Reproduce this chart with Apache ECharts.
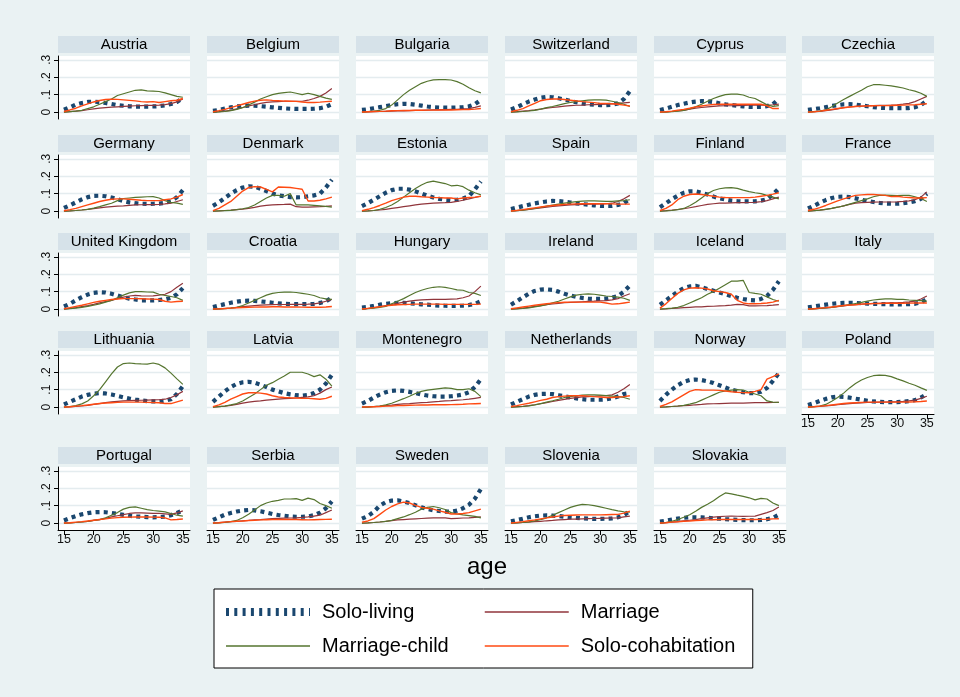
<!DOCTYPE html>
<html><head><meta charset="utf-8">
<script src="https://cdn.jsdelivr.net/npm/echarts@6/dist/echarts.min.js"></script>
<style>html,body{margin:0;padding:0;background:#EAF2F3}#c{width:960px;height:697px}</style>
</head><body><div id="c"></div>
<script>
const ages = [15,16,17,18,19,20,21,22,23,24,25,26,27,28,29,30,31,32,33,34,35];
const countries = ['Austria','Belgium','Bulgaria','Switzerland','Cyprus','Czechia',
  'Germany','Denmark','Estonia','Spain','Finland','France',
  'United Kingdom','Croatia','Hungary','Ireland','Iceland','Italy',
  'Lithuania','Latvia','Montenegro','Netherlands','Norway','Poland',
  'Portugal','Serbia','Sweden','Slovenia','Slovakia'];
const seriesNames = ['Solo-living','Marriage','Marriage-child','Solo-cohabitation'];
const xTicks = [15,20,25,30,35];
const yTicks = [0,0.1,0.2,0.3];

const soloLiving = {
  'Austria':[.013,.027,.043,.052,.058,.06,.057,.052,.046,.04,.036,.033,.031,.031,.031,.032,.034,.038,.046,.058,.08],
  'Belgium':[.007,.012,.02,.027,.032,.035,.037,.036,.034,.031,.027,.024,.021,.019,.018,.018,.018,.019,.022,.03,.045],
  'Bulgaria':[.012,.016,.022,.028,.034,.04,.045,.047,.046,.042,.037,.032,.028,.026,.025,.025,.026,.028,.033,.045,.07],
  'Switzerland':[.015,.028,.045,.06,.072,.082,.087,.085,.079,.072,.064,.056,.05,.045,.042,.04,.04,.042,.05,.075,.12],
  'Cyprus':[.012,.02,.03,.04,.048,.055,.06,.063,.062,.057,.05,.044,.04,.036,.033,.03,.029,.03,.034,.045,.075],
  'Czechia':[.012,.017,.022,.028,.035,.04,.044,.045,.043,.038,.033,.028,.025,.023,.022,.022,.022,.023,.028,.04,.065],
  'Germany':[.018,.033,.05,.067,.08,.087,.088,.085,.078,.068,.058,.05,.045,.042,.041,.042,.043,.047,.056,.08,.12],
  'Denmark':[.03,.05,.075,.1,.12,.135,.142,.14,.128,.115,.1,.09,.085,.08,.078,.08,.085,.09,.1,.135,.18],
  'Estonia':[.028,.045,.065,.085,.105,.12,.128,.128,.123,.113,.1,.088,.078,.07,.065,.063,.065,.072,.085,.125,.17],
  'Spain':[.012,.02,.028,.036,.044,.05,.055,.058,.057,.054,.049,.044,.04,.036,.033,.03,.03,.03,.035,.045,.07],
  'Finland':[.022,.045,.068,.088,.105,.113,.113,.105,.095,.083,.073,.066,.06,.057,.055,.055,.056,.06,.068,.095,.13],
  'France':[.015,.03,.048,.063,.075,.082,.083,.08,.073,.065,.058,.052,.047,.043,.042,.042,.045,.05,.057,.07,.1],
  'United Kingdom':[.015,.03,.05,.068,.083,.093,.097,.095,.088,.078,.068,.06,.055,.05,.05,.05,.052,.056,.065,.085,.12],
  'Croatia':[.012,.02,.028,.036,.042,.047,.048,.047,.044,.04,.036,.032,.03,.029,.028,.028,.028,.03,.035,.045,.065],
  'Hungary':[.008,.012,.018,.025,.03,.034,.035,.035,.033,.03,.027,.025,.022,.02,.019,.018,.018,.02,.023,.03,.045],
  'Ireland':[.025,.045,.067,.088,.104,.112,.113,.11,.1,.088,.078,.07,.064,.06,.058,.058,.06,.065,.075,.1,.135],
  'Iceland':[.025,.05,.075,.1,.12,.13,.133,.125,.115,.105,.095,.085,.075,.065,.058,.052,.05,.058,.075,.11,.16],
  'Italy':[.01,.015,.02,.025,.03,.033,.035,.036,.035,.033,.031,.03,.029,.028,.027,.027,.027,.028,.03,.038,.058],
  'Lithuania':[.015,.03,.045,.06,.07,.077,.08,.078,.072,.064,.056,.049,.043,.038,.034,.032,.032,.036,.045,.075,.12],
  'Latvia':[.03,.06,.09,.115,.133,.142,.145,.14,.128,.115,.1,.09,.08,.073,.068,.066,.07,.08,.1,.135,.185],
  'Montenegro':[.02,.035,.055,.072,.085,.093,.096,.093,.087,.08,.072,.066,.062,.06,.06,.062,.066,.072,.085,.115,.16],
  'Netherlands':[.015,.03,.045,.06,.07,.075,.076,.074,.068,.062,.055,.05,.045,.042,.042,.042,.044,.05,.06,.075,.08],
  'Norway':[.035,.07,.1,.125,.145,.155,.158,.155,.148,.138,.125,.112,.1,.092,.085,.08,.08,.088,.11,.15,.195],
  'Poland':[.012,.022,.035,.047,.056,.06,.058,.054,.048,.042,.036,.032,.03,.028,.028,.028,.03,.034,.04,.055,.075],
  'Portugal':[.015,.028,.04,.05,.057,.062,.063,.062,.058,.053,.047,.042,.038,.036,.034,.033,.034,.037,.045,.058,.072],
  'Serbia':[.018,.033,.048,.058,.066,.072,.075,.073,.068,.06,.052,.046,.042,.038,.036,.036,.038,.045,.06,.085,.125],
  'Sweden':[.025,.04,.065,.1,.12,.129,.13,.124,.115,.102,.09,.081,.073,.069,.066,.066,.071,.085,.105,.14,.195],
  'Slovenia':[.01,.017,.025,.033,.039,.043,.044,.043,.04,.036,.033,.03,.027,.025,.024,.024,.025,.027,.033,.045,.068],
  'Slovakia':[.008,.013,.02,.025,.03,.033,.033,.032,.03,.027,.025,.022,.02,.018,.017,.016,.016,.018,.022,.03,.048]
};

const marriage = {
  'Austria':[0,.002,.005,.008,.013,.018,.022,.025,.028,.03,.032,.034,.036,.037,.038,.038,.04,.043,.048,.058,.075],
  'Belgium':[0,.002,.005,.01,.018,.026,.035,.042,.05,.055,.058,.06,.062,.062,.062,.062,.068,.078,.09,.11,.135],
  'Bulgaria':[0,.001,.002,.003,.004,.005,.006,.007,.008,.009,.01,.011,.012,.013,.014,.015,.016,.018,.02,.027,.035],
  'Switzerland':[0,.002,.005,.008,.012,.017,.022,.026,.03,.034,.037,.039,.04,.042,.043,.044,.045,.047,.05,.053,.055],
  'Cyprus':[0,.001,.003,.006,.01,.016,.022,.026,.03,.033,.035,.036,.036,.037,.038,.039,.04,.04,.04,.042,.045],
  'Czechia':[0,.002,.004,.008,.012,.018,.025,.029,.032,.034,.036,.037,.038,.039,.04,.042,.045,.05,.06,.075,.09],
  'Germany':[0,.001,.003,.006,.01,.014,.018,.022,.025,.028,.03,.033,.035,.036,.037,.037,.038,.041,.045,.055,.065],
  'Denmark':[0,.001,.003,.005,.008,.011,.015,.021,.028,.032,.035,.037,.038,.04,.025,.023,.023,.024,.025,.027,.03],
  'Estonia':[0,.001,.003,.006,.01,.015,.02,.025,.03,.035,.04,.043,.045,.047,.048,.05,.055,.062,.07,.078,.085],
  'Spain':[0,.002,.005,.009,.013,.018,.022,.026,.03,.033,.035,.037,.038,.039,.04,.041,.042,.045,.055,.07,.09],
  'Finland':[0,.002,.005,.009,.013,.019,.025,.032,.038,.042,.045,.046,.047,.048,.048,.049,.05,.054,.06,.07,.08],
  'France':[0,.002,.005,.01,.015,.022,.03,.038,.045,.048,.05,.051,.052,.052,.052,.053,.055,.058,.065,.08,.11],
  'United Kingdom':[0,.004,.008,.014,.02,.027,.035,.043,.05,.06,.068,.075,.078,.076,.075,.076,.08,.085,.1,.125,.148],
  'Croatia':[0,.001,.003,.006,.01,.014,.017,.02,.022,.024,.025,.026,.026,.027,.027,.027,.028,.03,.035,.045,.055],
  'Hungary':[0,.003,.008,.013,.02,.027,.033,.04,.045,.05,.053,.054,.055,.055,.056,.057,.058,.065,.075,.1,.132],
  'Ireland':[0,.002,.005,.01,.015,.02,.025,.029,.033,.036,.038,.04,.042,.044,.045,.047,.048,.053,.06,.075,.088],
  'Iceland':[0,.001,.003,.005,.008,.01,.012,.013,.015,.016,.018,.02,.023,.027,.025,.018,.018,.019,.02,.022,.025],
  'Italy':[0,.002,.004,.007,.01,.014,.018,.022,.025,.028,.03,.032,.033,.034,.035,.036,.038,.041,.045,.058,.075],
  'Lithuania':[0,.001,.003,.006,.01,.015,.02,.025,.03,.033,.035,.037,.038,.039,.04,.041,.042,.045,.055,.07,.09],
  'Latvia':[0,.002,.005,.01,.015,.022,.028,.032,.035,.04,.043,.046,.048,.05,.052,.055,.058,.065,.08,.1,.115],
  'Montenegro':[0,.001,.003,.005,.008,.011,.015,.018,.02,.023,.025,.027,.03,.032,.035,.037,.04,.042,.045,.05,.055],
  'Netherlands':[0,.002,.004,.008,.013,.019,.025,.032,.038,.044,.05,.054,.058,.06,.062,.064,.066,.07,.085,.105,.13],
  'Norway':[0,.001,.003,.005,.008,.01,.013,.015,.018,.019,.02,.021,.022,.022,.023,.024,.025,.025,.025,.026,.027],
  'Poland':[0,.002,.004,.007,.01,.013,.017,.02,.022,.024,.026,.027,.028,.029,.03,.031,.033,.036,.04,.05,.062],
  'Portugal':[0,.001,.003,.006,.01,.015,.02,.027,.035,.042,.048,.055,.058,.058,.057,.056,.055,.053,.05,.058,.07],
  'Serbia':[0,.002,.005,.008,.01,.013,.015,.018,.02,.023,.025,.027,.028,.029,.03,.032,.035,.04,.045,.06,.075],
  'Sweden':[0,.001,.003,.006,.01,.014,.018,.02,.022,.024,.026,.028,.03,.03,.03,.025,.027,.029,.03,.033,.035],
  'Slovenia':[0,.001,.003,.005,.008,.01,.013,.015,.018,.02,.022,.023,.024,.025,.026,.027,.028,.029,.03,.035,.04],
  'Slovakia':[0,.002,.005,.008,.012,.016,.02,.025,.03,.034,.037,.039,.04,.039,.038,.039,.04,.05,.06,.072,.092]
};

const marriageChild = {
  'Austria':[0,.002,.005,.01,.02,.03,.045,.06,.075,.095,.105,.115,.125,.127,.122,.12,.118,.11,.1,.09,.085],
  'Belgium':[0,.001,.003,.008,.015,.025,.04,.057,.075,.088,.1,.107,.112,.115,.108,.1,.108,.1,.09,.08,.073],
  'Bulgaria':[0,.002,.005,.01,.02,.04,.07,.1,.125,.145,.165,.177,.185,.186,.186,.184,.175,.16,.14,.122,.11],
  'Switzerland':[0,.001,.003,.006,.01,.017,.025,.032,.04,.048,.055,.06,.065,.068,.07,.07,.068,.062,.055,.045,.032],
  'Cyprus':[0,0,.002,.005,.01,.018,.03,.045,.062,.078,.09,.1,.103,.103,.098,.085,.078,.06,.042,.033,.037],
  'Czechia':[0,.002,.005,.012,.03,.052,.072,.09,.108,.125,.145,.157,.157,.154,.15,.145,.138,.128,.12,.108,.09],
  'Germany':[0,.001,.003,.006,.01,.017,.025,.035,.045,.06,.072,.075,.078,.08,.082,.083,.075,.06,.05,.045,.038],
  'Denmark':[0,.001,.002,.004,.008,.013,.02,.035,.055,.075,.09,.09,.085,.1,.035,.035,.035,.033,.03,.027,.022],
  'Estonia':[0,.001,.003,.01,.02,.035,.055,.08,.105,.13,.15,.165,.172,.165,.158,.145,.148,.14,.12,.105,.093],
  'Spain':[0,.002,.005,.01,.015,.021,.028,.034,.04,.045,.05,.054,.057,.058,.058,.057,.055,.055,.058,.06,.065],
  'Finland':[0,.001,.003,.008,.015,.03,.05,.075,.1,.118,.128,.133,.135,.13,.12,.112,.105,.1,.09,.08,.07],
  'France':[0,.002,.005,.01,.015,.022,.03,.04,.05,.06,.07,.082,.09,.092,.09,.088,.09,.09,.082,.072,.055],
  'United Kingdom':[0,.002,.005,.01,.015,.022,.03,.04,.05,.065,.08,.093,.1,.1,.098,.097,.085,.078,.072,.065,.05],
  'Croatia':[0,.001,.002,.005,.01,.02,.035,.05,.065,.08,.09,.095,.097,.098,.095,.09,.085,.078,.065,.058,.055],
  'Hungary':[0,.002,.005,.01,.015,.03,.045,.06,.078,.095,.108,.118,.125,.128,.124,.118,.11,.108,.095,.09,.078],
  'Ireland':[0,.001,.003,.007,.012,.018,.025,.035,.045,.058,.07,.08,.085,.087,.085,.08,.075,.072,.068,.062,.05],
  'Iceland':[0,.002,.005,.01,.02,.035,.05,.065,.085,.1,.12,.14,.16,.16,.165,.095,.09,.085,.07,.055,.045],
  'Italy':[0,.001,.003,.006,.01,.015,.02,.026,.032,.038,.045,.052,.056,.058,.058,.056,.055,.052,.05,.048,.045],
  'Lithuania':[0,.003,.008,.018,.035,.065,.1,.145,.19,.23,.25,.253,.25,.248,.247,.253,.245,.225,.195,.162,.13],
  'Latvia':[0,.002,.005,.012,.02,.035,.055,.075,.1,.125,.14,.16,.178,.2,.2,.2,.19,.175,.185,.16,.12],
  'Montenegro':[0,0,.002,.005,.012,.022,.035,.048,.062,.078,.09,.097,.102,.106,.11,.107,.1,.1,.105,.09,.06],
  'Netherlands':[0,.001,.003,.007,.012,.02,.028,.036,.045,.055,.06,.065,.068,.07,.07,.068,.066,.063,.06,.055,.045],
  'Norway':[0,.001,.003,.006,.01,.017,.025,.04,.055,.07,.085,.092,.097,.1,.098,.085,.075,.065,.035,.028,.027],
  'Poland':[0,.002,.006,.015,.033,.055,.08,.11,.135,.155,.17,.18,.183,.182,.175,.162,.15,.137,.125,.11,.096],
  'Portugal':[0,.001,.003,.006,.01,.015,.02,.03,.045,.06,.08,.09,.093,.085,.077,.072,.068,.064,.055,.045,.04],
  'Serbia':[0,.001,.003,.008,.015,.03,.05,.075,.1,.115,.125,.13,.138,.138,.14,.13,.143,.135,.112,.1,.085],
  'Sweden':[0,.001,.003,.006,.01,.015,.025,.035,.048,.062,.08,.09,.095,.088,.078,.06,.052,.047,.043,.038,.03],
  'Slovenia':[0,.001,.003,.007,.012,.02,.03,.045,.06,.075,.09,.1,.107,.105,.1,.093,.085,.077,.07,.065,.062],
  'Slovakia':[0,.003,.01,.02,.033,.048,.068,.09,.108,.128,.152,.173,.168,.16,.153,.145,.133,.142,.138,.115,.1]
};

const soloCohabitation = {
  'Austria':[.003,.012,.022,.035,.047,.058,.066,.072,.074,.073,.07,.067,.064,.06,.058,.06,.055,.06,.065,.068,.078],
  'Belgium':[.002,.008,.015,.025,.035,.045,.055,.063,.068,.07,.067,.065,.063,.062,.061,.058,.055,.055,.057,.06,.062],
  'Bulgaria':[0,.002,.003,.004,.005,.007,.008,.009,.009,.01,.01,.011,.011,.012,.012,.012,.013,.014,.015,.017,.02],
  'Switzerland':[.002,.01,.02,.035,.05,.065,.072,.075,.075,.072,.068,.064,.06,.057,.054,.05,.05,.048,.045,.04,.035],
  'Cyprus':[0,.002,.005,.01,.015,.022,.03,.035,.04,.043,.045,.045,.045,.045,.045,.045,.045,.045,.035,.02,.02],
  'Czechia':[0,.002,.005,.01,.015,.02,.025,.029,.032,.034,.035,.036,.037,.037,.038,.039,.04,.041,.042,.045,.048],
  'Germany':[.002,.008,.015,.025,.035,.045,.055,.062,.068,.07,.07,.068,.065,.062,.06,.06,.06,.065,.07,.08,.095],
  'Denmark':[.002,.015,.035,.055,.085,.115,.135,.14,.138,.125,.11,.138,.137,.135,.13,.125,.058,.058,.062,.07,.08],
  'Estonia':[.002,.01,.02,.032,.045,.06,.07,.08,.085,.085,.082,.08,.078,.077,.075,.075,.07,.075,.078,.08,.085],
  'Spain':[0,.004,.008,.013,.018,.023,.028,.032,.035,.038,.04,.041,.042,.042,.042,.042,.042,.041,.04,.04,.04],
  'Finland':[.003,.015,.035,.065,.085,.095,.098,.095,.09,.085,.08,.078,.077,.077,.077,.077,.08,.085,.09,.097,.105],
  'France':[.003,.01,.02,.032,.045,.058,.07,.08,.09,.093,.095,.095,.093,.09,.083,.085,.08,.078,.075,.075,.077],
  'United Kingdom':[.002,.008,.015,.022,.03,.038,.045,.05,.055,.058,.06,.06,.06,.059,.058,.057,.055,.045,.04,.043,.045],
  'Croatia':[0,.001,.003,.005,.007,.009,.01,.011,.012,.012,.013,.013,.012,.012,.012,.011,.01,.01,.01,.012,.015],
  'Hungary':[0,.004,.008,.013,.018,.022,.025,.026,.027,.028,.028,.028,.028,.028,.027,.027,.027,.027,.027,.027,.028],
  'Ireland':[.002,.007,.012,.017,.022,.026,.03,.034,.037,.039,.04,.04,.04,.04,.04,.04,.035,.028,.03,.035,.04],
  'Iceland':[.005,.03,.06,.09,.11,.12,.122,.12,.115,.105,.1,.095,.085,.05,.035,.03,.03,.032,.035,.04,.05],
  'Italy':[0,.002,.005,.008,.012,.016,.02,.023,.025,.028,.03,.031,.032,.033,.033,.033,.033,.034,.035,.035,.035],
  'Lithuania':[0,.002,.005,.008,.012,.016,.02,.023,.025,.027,.028,.028,.028,.028,.027,.026,.025,.02,.02,.03,.04],
  'Latvia':[.002,.012,.027,.045,.06,.075,.082,.083,.08,.075,.065,.058,.055,.053,.052,.05,.05,.048,.045,.05,.062],
  'Montenegro':[0,.001,.002,.003,.005,.006,.008,.009,.01,.011,.012,.012,.013,.013,.013,.014,.015,.016,.018,.019,.02],
  'Netherlands':[.003,.008,.015,.022,.03,.038,.045,.055,.06,.063,.065,.065,.065,.063,.06,.058,.055,.055,.058,.06,.065],
  'Norway':[.003,.015,.03,.05,.07,.09,.1,.098,.097,.097,.096,.092,.088,.085,.083,.082,.09,.1,.16,.175,.19],
  'Poland':[0,.002,.005,.008,.012,.016,.02,.023,.025,.027,.028,.028,.028,.028,.028,.028,.028,.029,.03,.032,.035],
  'Portugal':[0,.002,.005,.008,.012,.016,.02,.024,.028,.031,.033,.034,.035,.035,.035,.034,.033,.03,.018,.02,.023],
  'Serbia':[0,.002,.005,.008,.01,.012,.015,.016,.018,.019,.02,.02,.02,.02,.02,.019,.018,.019,.02,.021,.022],
  'Sweden':[.005,.012,.025,.05,.075,.095,.11,.12,.115,.102,.09,.085,.08,.07,.062,.052,.052,.055,.06,.07,.08],
  'Slovenia':[0,.004,.008,.013,.018,.024,.03,.035,.04,.043,.045,.046,.047,.047,.047,.047,.048,.049,.05,.057,.068],
  'Slovakia':[0,.002,.005,.007,.01,.012,.015,.016,.018,.019,.02,.02,.02,.02,.02,.02,.02,.021,.022,.024,.025]
};

// ---------- layout & style ----------
const FONT = '"Liberation Sans", Arial, sans-serif';
const colLeft = [58, 207, 356, 505, 654, 802];
const rowTop = [56, 155, 253, 351, 467];
const panelW = 132, panelH = 63;
const stripH = 17, stripGap = 3;
const seriesData = [soloLiving, marriage, marriageChild, soloCohabitation];
const seriesStyle = [
  {color:'#1A476F', width:4.2, type:[4,4.2], z:2},
  {color:'#90353B', width:1.2, type:'solid', z:3},
  {color:'#55752F', width:1.2, type:'solid', z:4},
  {color:'#FF4A12', width:1.4, type:'solid', z:5}
];
const hiddenSymbol = {color:'rgba(0,0,0,0)', borderWidth:0, opacity:0};

const grid = [], xAxis = [], yAxis = [], series = [], graphic = [];
countries.forEach((name, i) => {
  const r = Math.floor(i / 6), c = i % 6;
  const left = colLeft[c], top = rowTop[r];
  const isLeft = c === 0;
  const isBottom = r === 4 || (r === 3 && c === 5);
  grid.push({left: left, top: top, width: panelW, height: panelH,
    show: true, backgroundColor: '#ffffff', borderWidth: 0, containLabel: false});
  xAxis.push({type:'value', gridIndex:i, min:14, max:36.2,
    axisLine:{show:isBottom, onZero:false, lineStyle:{color:'#000', width:1}},
    axisTick:{show:isBottom, length:5, customValues:xTicks, lineStyle:{color:'#000'}},
    axisLabel:{show:isBottom, customValues:xTicks, margin:3, fontSize:12.5, color:'#111', fontFamily:FONT},
    splitLine:{show:false}});
  yAxis.push({type:'value', gridIndex:i, min:-0.04, max:0.322,
    axisLine:{show:isLeft, onZero:false, lineStyle:{color:'#000', width:1}},
    axisTick:{show:isLeft, length:4, customValues:yTicks, lineStyle:{color:'#000'}},
    axisLabel:{show:isLeft, customValues:yTicks, rotate:90, margin:5, fontSize:12, color:'#111', fontFamily:FONT,
      formatter: v => v === 0 ? '0' : String(Math.round(v*10)/10).replace('0.', '.')},
    splitLine:{show:true, lineStyle:{color:'#E4ECEF', width:1.3}}});
  seriesData.forEach((src, k) => {
    const st = seriesStyle[k];
    series.push({type:'line', name:seriesNames[k], xAxisIndex:i, yAxisIndex:i,
      data: ages.map((a, j) => [a, src[name][j]]),
      symbol:'none', silent:true, z:st.z,
      lineStyle:{color:st.color, width:st.width, type:st.type, cap:'butt'},
      itemStyle:{color:st.color}});
  });
  graphic.push({type:'rect', silent:true,
    shape:{x:left, y:top - stripGap - stripH, width:panelW, height:stripH},
    style:{fill:'#D6E2E9'}});
  graphic.push({type:'text', silent:true, x:left + panelW/2, y:top - stripGap - stripH/2 + 0.5,
    style:{text:name, fill:'#000', fontSize:15, fontFamily:FONT, align:'center', verticalAlign:'middle'}});
});
graphic.push({type:'text', silent:true, x:487, y:567,
  style:{text:'age', fill:'#000', fontSize:24, fontFamily:FONT, align:'center', verticalAlign:'middle'}});

const option = {
  backgroundColor:'#EAF2F3',
  animation:false,
  grid, xAxis, yAxis, series, graphic,
  legend:{
    left:214, top:589, width:545, orient:'horizontal',
    padding:[9.5,17,8.5,8], itemGap:7, itemWidth:84, itemHeight:14,
    backgroundColor:'#ffffff', borderColor:'#000', borderWidth:1, borderRadius:0,
    selectedMode:false,
    textStyle:{fontSize:20, color:'#000', fontFamily:FONT, width:155, lineHeight:27, padding:[0,0,0,7], overflow:'none'},
    data:[
      {name:'Solo-living', itemStyle:hiddenSymbol, lineStyle:{width:8, type:[3,5.3], color:'#1A476F', cap:'butt'}},
      {name:'Marriage', itemStyle:hiddenSymbol, lineStyle:{width:1.5, type:'solid', color:'#90353B'}},
      {name:'Marriage-child', itemStyle:hiddenSymbol, lineStyle:{width:1.5, type:'solid', color:'#55752F'}},
      {name:'Solo-cohabitation', itemStyle:hiddenSymbol, lineStyle:{width:1.5, type:'solid', color:'#FF4A12'}}
    ]
  }
};
const chart = echarts.init(document.getElementById('c'), null, {renderer:'canvas', width:960, height:697});
chart.setOption(option);
</script>
</body></html>
